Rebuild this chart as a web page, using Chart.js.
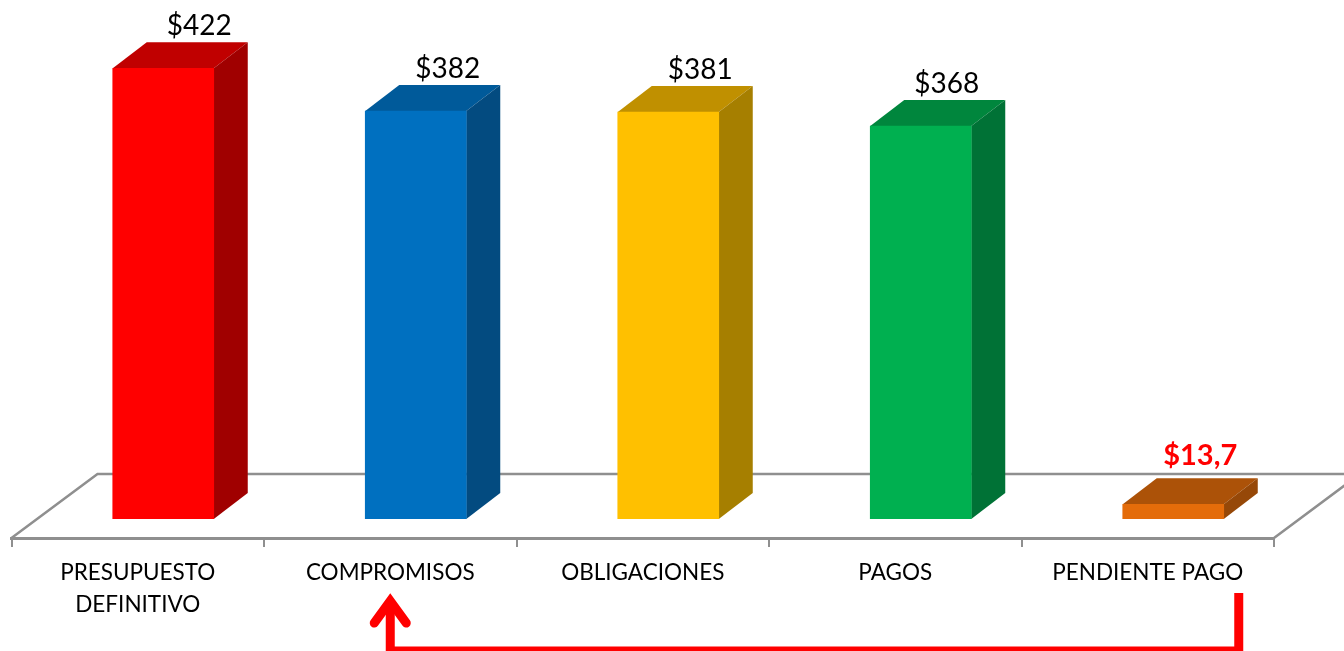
<!DOCTYPE html>
<html>
<head>
<meta charset="utf-8">
<title>Presupuesto</title>
<script src="https://cdn.jsdelivr.net/npm/chart.js@4"></script>
<style>
    html, body { margin: 0; padding: 0; background: #fff; }
    #wrap { width: 1344px; height: 651px; overflow: hidden; }
</style>
</head>
<body>
<div id="wrap"><canvas id="budgetChart" width="1344" height="651"></canvas></div>
<script>
const categories = [['PRESUPUESTO', 'DEFINITIVO'], 'COMPROMISOS', 'OBLIGACIONES', 'PAGOS', 'PENDIENTE PAGO'];
const values = [422, 382, 381, 368, 13.7];
const valueLabels = ['$422', '$382', '$381', '$368', '$13,7'];

const frontColors = ['#ff0000', '#0070c0', '#ffc000', '#00b050', '#e46c0a'];
const topColors = ['#c00000', '#005a9a', '#c09000', '#00863d', '#ac5208'];
const sideColors = ['#a00000', '#034b80', '#a67f00', '#007236', '#964808'];

const FONT = 'Lato, "Open Sans", sans-serif';
const AXIS_GREY = '#8f8f8f';
const SHIFT = { x: 25.5, y: -19 };  // bars stand in the middle of the floor
const DEPTH = { x: 34, y: -26 };
const FLOOR = { x: 86, y: -64 };
// the labels are not quite centred over the bars in the original
const labelNudgeX = [36, 32, 32, 26, 27];
const labelNudgeY = [16, 16, 16, 16, 23];

const floorPlugin = {
    id: 'floor',
    beforeDatasetsDraw(chart) {
        const { ctx, chartArea: a } = chart;
        ctx.save();
        ctx.strokeStyle = AXIS_GREY;
        ctx.lineWidth = 2.5;
        ctx.beginPath();
        ctx.moveTo(a.left, a.bottom);
        ctx.lineTo(a.left + FLOOR.x, a.bottom + FLOOR.y);
        ctx.lineTo(chart.width, a.bottom + FLOOR.y);
        ctx.moveTo(a.right, a.bottom);
        ctx.lineTo(a.right + FLOOR.x, a.bottom + FLOOR.y);
        ctx.stroke();
        ctx.restore();
    }
};

const boxPlugin = {
    id: 'box3d',
    beforeDatasetDraw(chart, args) {
        const ctx = chart.ctx;
        ctx.save();
        ctx.translate(SHIFT.x, SHIFT.y);
        args.meta.data.forEach((bar, i) => {
            const l = bar.x - bar.width / 2;
            const r = bar.x + bar.width / 2;
            const t = bar.y;
            const b = bar.base;
            ctx.fillStyle = topColors[i];
            ctx.beginPath();
            ctx.moveTo(l, t);
            ctx.lineTo(l + DEPTH.x, t + DEPTH.y);
            ctx.lineTo(r + DEPTH.x, t + DEPTH.y);
            ctx.lineTo(r, t);
            ctx.closePath();
            ctx.fill();
            ctx.fillStyle = sideColors[i];
            ctx.beginPath();
            ctx.moveTo(r, t);
            ctx.lineTo(r + DEPTH.x, t + DEPTH.y);
            ctx.lineTo(r + DEPTH.x, b + DEPTH.y);
            ctx.lineTo(r, b);
            ctx.closePath();
            ctx.fill();
        });
    },
    afterDatasetDraw(chart) {
        chart.ctx.restore();
    },
    afterDatasetsDraw(chart) {
        const ctx = chart.ctx;
        const bars = chart.getDatasetMeta(0).data;
        ctx.save();
        ctx.textAlign = 'center';
        ctx.textBaseline = 'middle';
        bars.forEach((bar, i) => {
            const last = i === bars.length - 1;
            ctx.font = (last ? 'bold 29px ' : '28px ') + FONT;
            ctx.fillStyle = last ? '#ff0000' : '#000';
            ctx.fillText(valueLabels[i],
                bar.x + SHIFT.x + labelNudgeX[i],
                bar.y + SHIFT.y + DEPTH.y - labelNudgeY[i]);
        });
        ctx.restore();
    }
};

// red arrow from PENDIENTE PAGO back to COMPROMISOS
const arrowPlugin = {
    id: 'arrow',
    afterDraw(chart) {
        const ctx = chart.ctx;
        const x = chart.scales.x;
        const left = x.getPixelForValue(1);
        const right = x.getPixelForValue(4) + 91;
        ctx.save();
        ctx.strokeStyle = '#ff0000';
        ctx.lineWidth = 9;
        ctx.beginPath();
        ctx.moveTo(right, 593);
        ctx.lineTo(right, 651);
        ctx.lineTo(left, 651);
        ctx.lineTo(left, 602);
        ctx.stroke();
        ctx.lineCap = 'round';
        ctx.beginPath();
        ctx.moveTo(left - 16, 623);
        ctx.lineTo(left, 601);
        ctx.lineTo(left + 16, 623);
        ctx.stroke();
        ctx.restore();
    }
};

new Chart(document.getElementById('budgetChart').getContext('2d'), {
    type: 'bar',
    data: {
        labels: categories,
        datasets: [{
            data: values,
            backgroundColor: frontColors,
            barThickness: 101
        }]
    },
    options: {
        responsive: false,
        animation: false,
        layout: { padding: { left: 11.5, right: 70, top: 4, bottom: 0 } },
        plugins: {
            legend: { display: false },
            tooltip: { enabled: false }
        },
        scales: {
            x: {
                grid: {
                    offset: true,
                    drawOnChartArea: false,
                    color: AXIS_GREY,
                    lineWidth: 2,
                    tickLength: 9
                },
                border: { color: AXIS_GREY, width: 3 },
                ticks: {
                    color: '#000',
                    maxRotation: 0,
                    padding: 10,
                    font: { family: FONT, size: 22.5, lineHeight: 1.42 }
                },
                afterFit(scale) { scale.height = 113; }
            },
            y: {
                display: false,
                min: 0,
                max: 500
            }
        }
    },
    plugins: [floorPlugin, boxPlugin, arrowPlugin]
});
</script>
</body>
</html>
